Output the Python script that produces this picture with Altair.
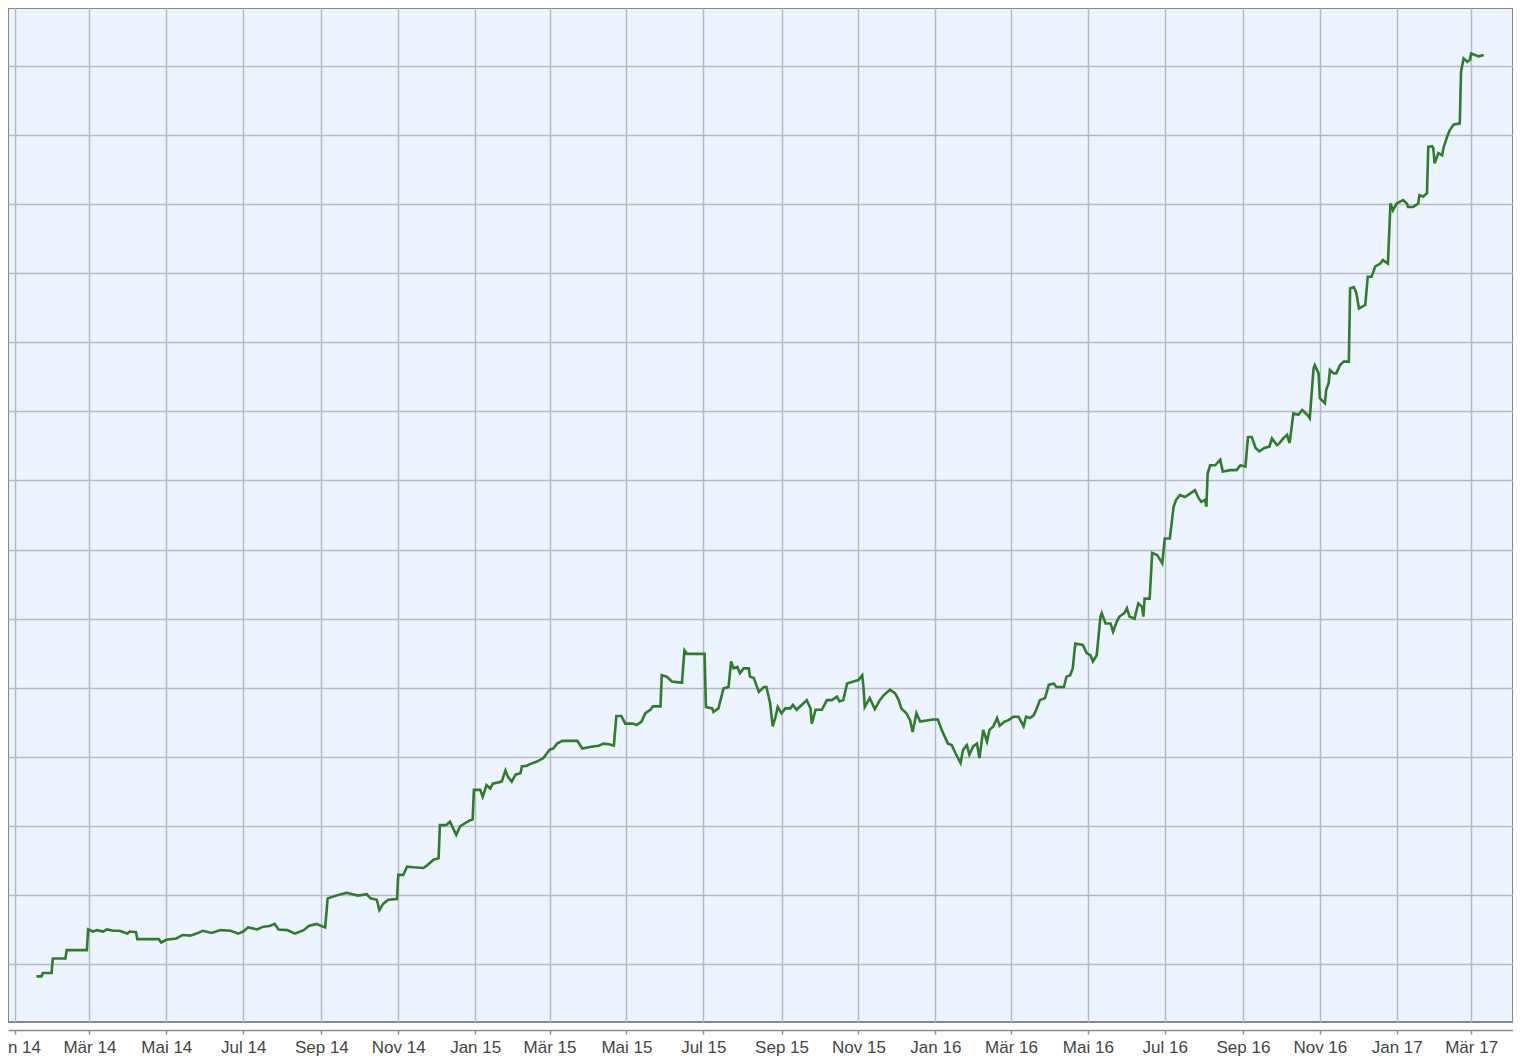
import altair as alt
import pandas as pd

# Days since 2014-01-01 and the matching price values
day_offsets = [
    17, 21, 22, 29, 30, 40, 41, 57, 58, 62, 65, 70, 73, 78, 83, 89, 91, 96, 97, 114,
    116, 120, 128, 133, 139, 144, 149, 156, 163, 171, 177, 181, 185, 192, 197, 202, 206, 209, 216, 222,
    229, 233, 239, 243, 246, 248, 255, 263, 272, 279, 282, 287, 289, 292, 296, 303, 304, 308, 311, 316,
    324, 327, 332, 336, 337, 342, 345, 350, 353, 357, 361, 363, 364, 369, 371, 374, 377, 379, 386, 389,
    391, 394, 397, 401, 402, 406, 408, 414, 419, 422, 424, 427, 430, 434, 446, 450, 456, 463, 467, 471,
    475, 477, 481, 484, 490, 493, 497, 500, 504, 506, 512, 513, 517, 521, 525, 529, 531, 533, 547, 548,
    553, 554, 558, 562, 566, 568, 570, 573, 575, 578, 582, 583, 586, 588, 590, 594, 596, 599, 600, 601,
    603, 605, 608, 611, 615, 617, 620, 624, 628, 631, 632, 635, 640, 644, 648, 652, 654, 657, 660, 665,
    669, 672, 673, 674, 678, 682, 686, 689, 694, 698, 701, 703, 707, 710, 712, 715, 718, 728, 732, 735,
    738, 740, 743, 746, 750, 752, 755, 757, 760, 763, 765, 768, 771, 773, 776, 779, 781, 785, 788, 792,
    796, 800, 802, 805, 808, 810, 813, 817, 820, 824, 826, 832, 834, 837, 839, 841, 847, 850, 853, 855,
    858, 861, 862, 865, 869, 871, 874, 876, 880, 882, 884, 888, 891, 894, 895, 896, 900, 902, 906, 910,
    912, 916, 919, 921, 924, 928, 932, 936, 939, 941, 944, 945, 946, 948, 952, 956, 958, 964, 969, 972,
    976, 977, 978, 981, 984, 987, 991, 995, 997, 1001, 1003, 1006, 1009, 1011, 1014, 1018, 1021, 1025, 1027, 1030,
    1031, 1034, 1035, 1039, 1040, 1042, 1043, 1046, 1048, 1051, 1054, 1058, 1059, 1062, 1064, 1066, 1068, 1071, 1073, 1076,
    1079, 1083, 1085, 1089, 1091, 1093, 1096, 1101, 1104, 1105, 1109, 1113, 1114, 1117, 1120, 1121, 1124, 1125, 1126, 1129,
    1132, 1133, 1136, 1138, 1141, 1146, 1147, 1149, 1152, 1154, 1155, 1158, 1161, 1165,
]
prices = [
    98.2, 98.2, 98.7, 98.7, 100.8, 100.8, 102.0, 102.0, 105.0, 104.7, 104.9, 104.7, 105.0, 104.8, 104.8, 104.4, 104.7, 104.6, 103.6, 103.6,
    103.1, 103.5, 103.7, 104.2, 104.1, 104.4, 104.8, 104.5, 104.9, 104.8, 104.4, 104.7, 105.3, 105.0, 105.4, 105.5, 105.8, 105.0, 104.9, 104.4,
    104.9, 105.5, 105.8, 105.5, 105.3, 109.5, 109.9, 110.3, 109.9, 110.1, 109.5, 109.3, 107.8, 108.7, 109.3, 109.4, 112.9, 112.9, 114.1, 114.0,
    113.9, 114.3, 115.1, 115.3, 120.1, 120.1, 120.6, 118.7, 119.9, 120.4, 120.8, 120.9, 125.2, 125.2, 124.2, 125.9, 125.4, 126.1, 126.4, 128.0,
    127.1, 126.4, 127.4, 127.6, 128.6, 128.7, 128.9, 129.3, 129.8, 130.5, 131.0, 131.2, 131.9, 132.3, 132.3, 131.2, 131.4, 131.6, 131.9, 131.8,
    131.6, 135.9, 135.9, 134.8, 134.8, 134.6, 135.1, 136.3, 136.8, 137.3, 137.3, 141.8, 141.6, 140.9, 140.8, 140.7, 145.4, 144.9, 144.9, 137.2,
    137.0, 136.5, 137.0, 139.9, 140.1, 143.8, 142.8, 143.0, 142.1, 142.8, 142.8, 141.6, 141.4, 140.4, 139.4, 140.1, 140.1, 137.7, 136.0, 134.4,
    135.6, 137.2, 136.3, 137.0, 137.0, 137.5, 136.8, 137.5, 138.2, 137.0, 134.8, 136.8, 136.8, 138.2, 138.2, 138.7, 138.0, 138.2, 140.6, 140.9,
    141.1, 141.8, 140.1, 137.2, 138.5, 136.9, 138.2, 138.9, 139.7, 139.2, 138.2, 137.0, 136.3, 135.3, 133.6, 136.3, 135.1, 135.4, 135.4, 133.9,
    132.7, 131.9, 131.7, 130.5, 129.1, 131.0, 131.7, 130.3, 131.5, 131.9, 129.8, 133.9, 132.2, 133.9, 134.4, 135.6, 134.5, 135.1, 135.3, 135.8,
    135.8, 134.4, 135.8, 135.6, 136.0, 136.8, 138.2, 138.5, 140.4, 140.6, 140.1, 140.1, 141.6, 141.8, 142.8, 146.4, 146.2, 145.0, 144.7, 143.8,
    144.7, 150.3, 150.8, 149.3, 149.3, 148.1, 149.6, 150.3, 150.8, 151.5, 150.3, 150.0, 152.2, 151.7, 150.3, 152.9, 152.9, 159.5, 159.2, 158.0,
    161.6, 161.6, 166.2, 167.2, 167.9, 167.6, 168.1, 168.6, 167.4, 166.9, 167.2, 166.2, 171.0, 172.2, 172.2, 173.0, 171.3, 171.5, 171.5, 172.2,
    172.0, 174.2, 176.3, 176.3, 174.7, 174.2, 174.7, 174.9, 176.1, 175.1, 175.4, 176.1, 176.6, 175.4, 179.7, 179.5, 180.2, 179.5, 179.0, 186.2,
    186.7, 185.5, 181.9, 181.2, 183.1, 184.1, 186.0, 185.5, 185.5, 186.7, 187.2, 187.2, 197.8, 198.0, 197.1, 194.9, 195.1, 195.4, 199.5, 199.5,
    201.0, 201.4, 201.9, 201.4, 210.1, 209.1, 210.1, 210.6, 210.1, 209.6, 209.6, 210.1, 211.3, 211.1, 211.6, 218.3, 218.4, 218.1, 215.9, 217.4,
    217.1, 218.1, 219.8, 220.7, 221.5, 221.7, 229.2, 231.1, 230.6, 230.9, 231.8, 231.6, 231.4, 231.6,
]

month_names = ["Jan", "Feb", "Mär", "Apr", "Mai", "Jun", "Jul", "Aug", "Sep", "Okt", "Nov", "Dez"]
tick_months = [(2014, 1), (2014, 3), (2014, 5), (2014, 7), (2014, 9), (2014, 11),
               (2015, 1), (2015, 3), (2015, 5), (2015, 7), (2015, 9), (2015, 11),
               (2016, 1), (2016, 3), (2016, 5), (2016, 7), (2016, 9), (2016, 11),
               (2017, 1), (2017, 3)]
y_grid_values = [100, 110, 120, 130, 140, 150, 160, 170, 180, 190, 200, 210, 220, 230]

dates = (pd.Timestamp("2014-01-01") + pd.to_timedelta(day_offsets, unit="D")).strftime("%Y-%m-%d")
df = pd.DataFrame({"date": dates, "price": prices})

tick_values = [alt.DateTime(year=y, month=m, date=1, utc=True) for (y, m) in tick_months]
label_expr = ("[" + ",".join("'" + n + "'" for n in month_names) + "][utcmonth(datum.value)]"
              " + ' ' + utcFormat(datum.value, '%y')")

x_domain = [alt.DateTime(year=2013, month=12, date=26, hours=10, minutes=40, utc=True),
            alt.DateTime(year=2017, month=4, date=3, hours=5, utc=True)]

chart = alt.Chart(df).mark_line(color="#2E7D2A", strokeWidth=2.6, interpolate="linear").encode(
    x=alt.X("date:T",
            scale=alt.Scale(type="utc", domain=x_domain, nice=False),
            axis=alt.Axis(title=None, values=tick_values, labelExpr=label_expr,
                          grid=True, gridColor="#B4BAC6", gridWidth=1.5,
                          domain=True, domainColor="#8C8C8C", domainWidth=1.5,
                          ticks=True, tickColor="#8C8C8C", tickSize=4, tickWidth=1.5,
                          offset=8, labelPadding=5, labelFont="Liberation Sans",
                          labelFontSize=17, labelColor="#444444", labelOverlap=False,
                          labelFlush=False)),
    y=alt.Y("price:Q",
            scale=alt.Scale(domain=[91.6, 238.4], nice=False, zero=False),
            axis=alt.Axis(title=None, values=y_grid_values, labels=False, ticks=False,
                          domain=False, grid=True, gridColor="#B4BAC6", gridWidth=1.5)),
).properties(
    width=1505,
    height=1014,
    autosize=alt.AutoSizeParams(type="none"),
    padding={"left": 0, "top": 0, "right": 0, "bottom": 45},
    background="white",
).configure_view(
    fill="#ECF4FF", stroke="#868686", strokeWidth=2
)

chart.save("out.html", embed_options={"renderer": "svg", "actions": False})
